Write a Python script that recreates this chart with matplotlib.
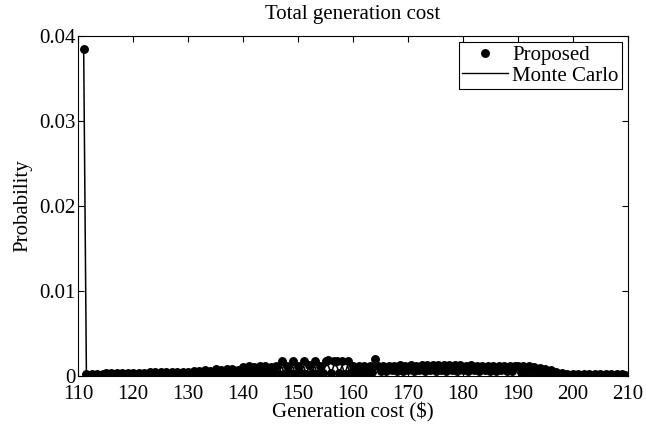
import numpy as np
import matplotlib
matplotlib.use("Agg")
import matplotlib.pyplot as plt

# ---- data (probabilities in units of 1e-4) ----
# cost grid: 111.0 ... 209.5, step 0.5
cost = np.arange(111.0, 209.75, 0.5)

proposed_e4 = (
    [385]
    + [2, 1, 2, 1, 2, 1, 2]                                             # 111.5-114.5
    + [3, 2, 3, 2, 3, 2, 3, 2, 3, 2, 3, 2, 3, 2, 3, 2]                   # 115.0-122.5
    + [4, 2, 4, 2, 4, 3, 4, 2, 4, 2, 4, 3, 4, 2, 4, 2]                   # 123.0-130.5
    + [6, 3, 6, 2, 7, 3, 6, 2]                                           # 131.0-134.5
    + [8, 2, 7, 3, 8, 2, 8, 3, 7, 2]                                     # 135.0-139.5
    + [10, 2, 11, 3, 10, 2, 11, 3, 12, 2, 10, 3, 11, 2]                  # 140.0-146.5
    + [17, 2, 12, 3, 18, 2, 11, 3, 18, 2, 13, 3, 17, 2, 12, 3,
       18, 19, 3, 17, 18, 3, 17, 2, 18, 3]                               # 147.0-159.5
    + [12, 3, 11, 3, 12, 3, 11, 4]                                       # 160.0-163.5
    + [20]                                                               # 164.0
    + [12, 6, 12, 6, 12, 7, 12, 6, 13, 6, 12, 7, 13, 6, 12, 7, 13,
       6, 13, 7, 13, 6, 13, 7, 13, 6, 13, 7, 13, 6, 13, 7, 12, 6,
       13, 7, 12, 6, 12, 7, 12, 6, 12, 6, 12, 7, 12, 6, 12, 6, 12]       # 164.5-189.5
    + [12, 5, 11, 5, 11, 4, 10, 4, 9, 3, 8, 3, 7, 2]                     # 190.0-196.5
    + [5, 2, 3, 1]                                                       # 197.0-198.5
    + [2, 1, 2, 1, 2, 1, 2, 1, 2, 1, 2, 1, 2, 1, 2, 1, 2, 1, 2, 1, 2, 1]  # 199.0-209.5
)

monte_carlo_e4 = (
    [385]
    + [1, 1, 2, 1, 2, 1, 2]
    + [2, 2, 3, 2, 3, 2, 3, 2, 3, 2, 3, 2, 3, 2, 3, 2]
    + [3, 2, 4, 2, 4, 3, 4, 2, 4, 2, 4, 3, 4, 2, 4, 2]
    + [5, 3, 6, 2, 6, 3, 6, 2]
    + [7, 2, 7, 3, 8, 2, 7, 3, 7, 2]
    + [9, 2, 10, 3, 10, 2, 10, 3, 11, 2, 10, 3, 10, 2]
    + [12, 2, 11, 3, 12, 2, 11, 3, 12, 2, 12, 3, 12, 2, 11, 3,
       12, 12, 3, 12, 12, 3, 12, 2, 12, 3]
    + [11, 3, 11, 3, 11, 3, 11, 4]
    + [18]
    + [11, 7, 11, 7, 11, 7, 12, 7, 12, 7, 12, 7, 12, 7, 12, 7, 12,
       7, 12, 7, 12, 7, 12, 7, 12, 7, 12, 7, 12, 7, 12, 7, 12, 7,
       12, 7, 12, 7, 12, 7, 11, 7, 11, 7, 11, 7, 11, 7, 11, 7, 11]
    + [11, 5, 11, 5, 10, 4, 10, 4, 9, 3, 8, 3, 6, 2]
    + [4, 2, 2, 1]
    + [1, 1, 1, 1, 1, 1, 1, 1, 1, 1, 1, 1, 1, 1, 1, 1, 1, 1, 1, 1, 1, 1]
)

proposed = np.array(proposed_e4, dtype=float) * 1e-4
monte_carlo = np.array(monte_carlo_e4, dtype=float) * 1e-4

x_ticks = [110, 120, 130, 140, 150, 160, 170, 180, 190, 200, 210]
y_ticks = [0, 0.01, 0.02, 0.03, 0.04]
y_tick_labels = ["0", "0.01", "0.02", "0.03", "0.04"]

# ---- figure ----
plt.rcParams['font.family'] = ['Liberation Serif', 'DejaVu Serif']
plt.rcParams['font.size'] = 15

fig = plt.figure(figsize=(6.46, 4.34), dpi=100)
ax = fig.add_axes([0.121, 0.134, 0.851, 0.783])

ax.plot(cost, proposed, linestyle='none', marker='o', markersize=5.4,
        color='black', label='Proposed', zorder=3)
ax.plot(cost, monte_carlo, color='black', linewidth=1.1,
        label='Monte Carlo', zorder=2)

ax.set_xlim(110, 210)
ax.set_ylim(0, 0.04)
ax.set_xticks(x_ticks)
ax.set_yticks(y_ticks)
ax.set_yticklabels(y_tick_labels)
ax.tick_params(direction='in', top=True, right=True, length=4, width=0.8,
               labelsize=15, pad=2)
ax.tick_params(axis='x', pad=6.5)
for s in ax.spines.values():
    s.set_linewidth(0.8)

ax.set_title('Total generation cost', fontsize=15, pad=12)
ax.set_xlabel('Generation cost ($)', fontsize=15, labelpad=-1)
ax.set_ylabel('Probability', fontsize=15, labelpad=5)

leg = ax.legend(loc='upper right', frameon=True, fancybox=False,
                edgecolor='black', framealpha=1, borderaxespad=0.3,
                handlelength=2.2, handletextpad=0.2, borderpad=0.15,
                labelspacing=0.05, fontsize=15)
leg.get_frame().set_linewidth(0.8)
leg.get_lines()[1].set_linewidth(1.0)

fig.savefig('out.png', dpi=100)
